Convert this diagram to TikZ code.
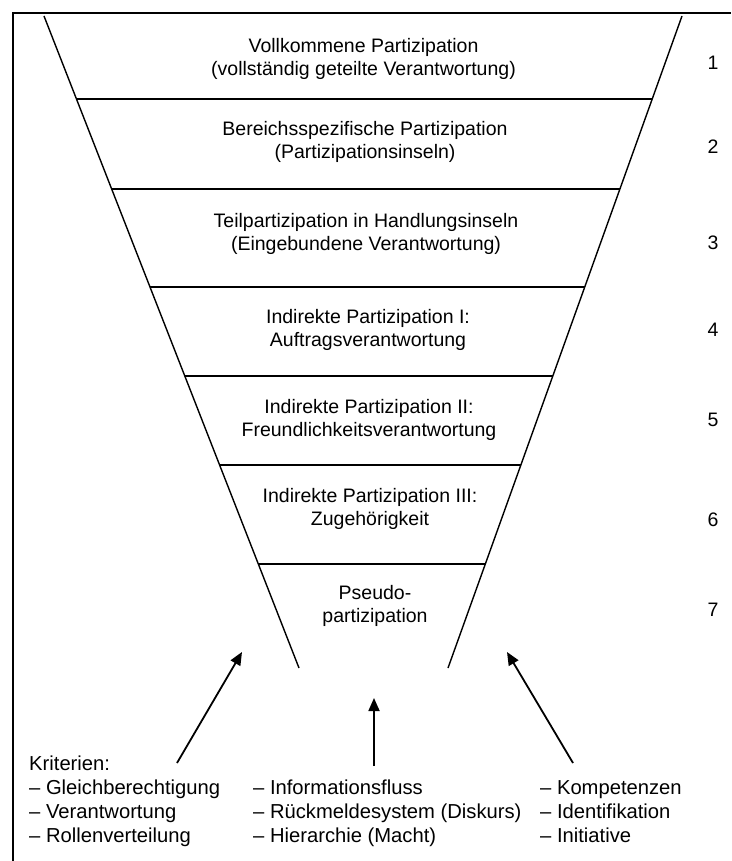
\documentclass[tikz,border=0pt]{standalone}
\usepackage{fontspec}
\setmainfont{Liberation Sans}
\usetikzlibrary{calc,arrows.meta}
\begin{document}
\begin{tikzpicture}[x=1pt,y=-1pt,
  rowtext/.style={font=\fontsize{19.5}{23}\selectfont, align=center, inner sep=0pt},
  numtext/.style={font=\fontsize{19.5}{23}\selectfont, inner sep=0pt},
  crit/.style={font=\fontsize{20.2}{24}\selectfont, align=left, inner sep=0pt, anchor=base west},
  frameline/.style={line width=2.4pt, black},
  funnel/.style={line width=1.4pt, black},
  arr/.style={line width=1.8pt, -{Triangle[length=13pt,width=11pt]}}]
\useasboundingbox (0,0) rectangle (731,861);
% frame (left and top edges)
\draw[frameline] (13,861) -- (13,13) -- (731,13);
% funnel
\coordinate (tl) at (44,16);
\coordinate (bl) at (299,668);
\coordinate (tr) at (682,16);
\coordinate (br) at (448,668);
\draw[funnel] (tl) -- (bl);
\draw[funnel] (tr) -- (br);
\foreach \y in {99,189,287,376,465,564} {
  \draw[funnel] ($(tl)!{(\y-16)/652}!(bl)$) -- ($(tr)!{(\y-16)/652}!(br)$);
}
% row texts
\node[rowtext] (r1) at (363.5,58.5) {Vollkommene Partizipation\\(vollständig geteilte Verantwortung)};
\node[rowtext] (r2) at (365,141.5) {Bereichsspezifische Partizipation\\(Partizipationsinseln)};
\node[rowtext] (r3) at (366,233.5) {Teilpartizipation in Handlungsinseln\\(Eingebundene Verantwortung)};
\node[rowtext] (r4) at (368,329.5) {Indirekte Partizipation I:\\Auftragsverantwortung};
\node[rowtext] (r5) at (369,419.5) {Indirekte Partizipation II:\\Freundlichkeitsverantwortung};
\node[rowtext] (r6) at (370,508.5) {Indirekte Partizipation III:\\Zugehörigkeit};
\node[rowtext] (r7) at (375,606) {Pseudo-\\partizipation};
% numbers
\node[numtext] (n1) at (713,63) {1};
\node[numtext] (n2) at (713,147) {2};
\node[numtext] (n3) at (713,243) {3};
\node[numtext] (n4) at (713,330) {4};
\node[numtext] (n5) at (713,420) {5};
\node[numtext] (n6) at (713,520) {6};
\node[numtext] (n7) at (713,610) {7};
% criteria (anchor = baseline of last line)
\node[crit] (c1) at (29,842.5) {Kriterien:\\– Gleichberechtigung\\– Verantwortung\\– Rollenverteilung};
\node[crit] (c2) at (253,842.5) {– Informationsfluss\\– Rückmeldesystem (Diskurs)\\– Hierarchie (Macht)};
\node[crit] (c3) at (540,842.5) {– Kompetenzen\\– Identifikation\\– Initiative};
% arrows
\coordinate (a1s) at (177,763);
\coordinate (a1e) at (242,652);
\coordinate (a2s) at (374,766);
\coordinate (a2e) at (374,698);
\coordinate (a3s) at (573,763);
\coordinate (a3e) at (507,652);
\draw[arr] (a1s) -- (a1e);
\draw[arr] (a2s) -- (a2e);
\draw[arr] (a3s) -- (a3e);
\end{tikzpicture}
\end{document}
